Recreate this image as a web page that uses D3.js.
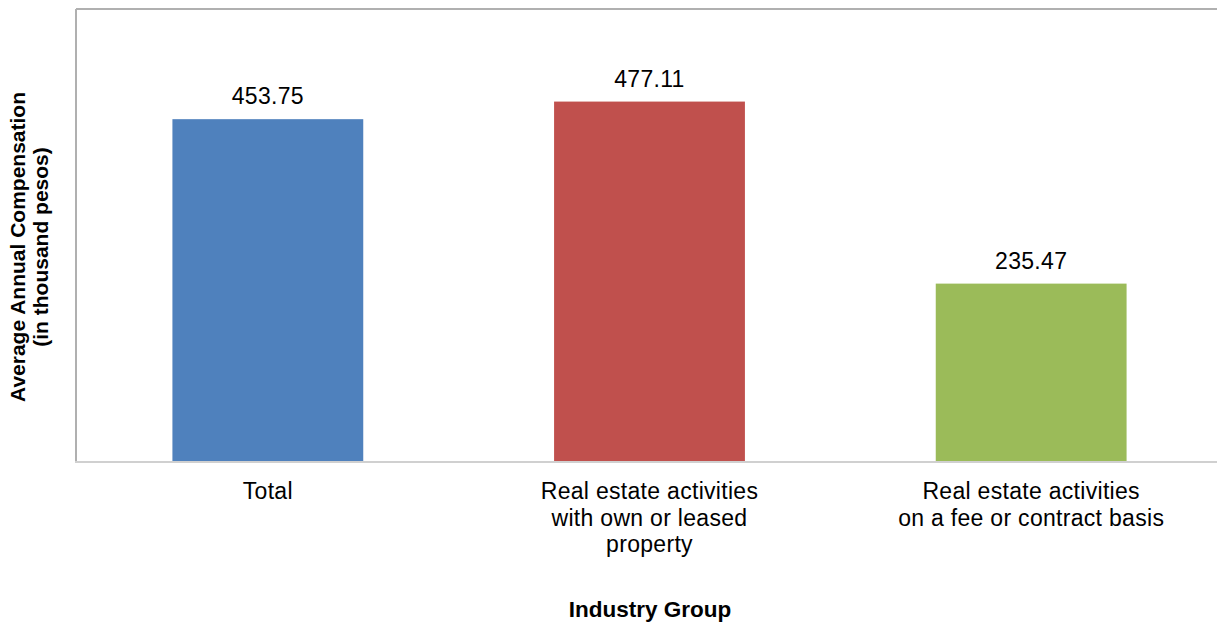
<!DOCTYPE html>
<html>
<head>
<meta charset="utf-8">
<script src="https://cdn.jsdelivr.net/npm/d3@7"></script>
<style>
  html, body { margin: 0; padding: 0; background: #fff; }
  svg { display: block; font-family: "Liberation Sans", Arial, sans-serif; }
</style>
</head>
<body>
<svg id="chart" width="1217" height="624"></svg>
<script>
// Average annual compensation by industry group (thousand pesos)
const categories = [
  ["Total"],
  ["Real estate activities", "with own or leased", "property"],
  ["Real estate activities", "on a fee or contract basis"]
];
const values = [453.75, 477.11, 235.47];
const colors = ["#4F81BD", "#C0504D", "#9BBB59"];
const yDomain = [0, 600];

const svg = d3.select("#chart");
const plot = { left: 77, right: 1222, top: 9, bottom: 461 };

const x = d3.scaleBand()
  .domain(d3.range(values.length))
  .range([plot.left, plot.right])
  .paddingInner(0.5)
  .paddingOuter(0.25);

const y = d3.scaleLinear().domain(yDomain).range([plot.bottom, plot.top]);

// Bars
svg.append("g").selectAll("rect")
  .data(values)
  .join("rect")
  .attr("x", (d, i) => x(i))
  .attr("width", x.bandwidth())
  .attr("y", d => y(d))
  .attr("height", d => y(0) - y(d))
  .attr("fill", (d, i) => colors[i]);

// Value labels
svg.append("g").selectAll("text")
  .data(values)
  .join("text")
  .attr("x", (d, i) => x(i) + x.bandwidth() / 2)
  .attr("y", d => y(d) - 15)
  .attr("text-anchor", "middle")
  .attr("font-size", 23)
  .attr("letter-spacing", 0.3)
  .attr("fill", "#000")
  .text(d => d.toFixed(2));

// Plot frame: top and left edges, category axis at the bottom
const frame = svg.append("g").attr("fill", "none");
frame.append("line")
  .attr("x1", plot.left - 1).attr("x2", 1217)
  .attr("y1", plot.top).attr("y2", plot.top)
  .attr("stroke", "#B0B0B0").attr("stroke-width", 2);
frame.append("line")
  .attr("x1", plot.left - 1).attr("x2", plot.left - 1)
  .attr("y1", plot.top).attr("y2", plot.bottom)
  .attr("stroke", "#B0B0B0").attr("stroke-width", 2);

const xAxis = d3.axisBottom(x).tickSize(0).tickFormat("");
const axisG = svg.append("g")
  .attr("transform", `translate(0,${plot.bottom + 1})`)
  .call(xAxis);
axisG.select(".domain").attr("stroke", "#D0D0D0").attr("stroke-width", 2)
  .attr("d", `M${plot.left - 2},0H1217`);

// Category labels (multi-line)
const catG = svg.append("g").selectAll("text")
  .data(categories)
  .join("text")
  .attr("x", (d, i) => x(i) + x.bandwidth() / 2)
  .attr("y", 499)
  .attr("text-anchor", "middle")
  .attr("font-size", 23)
  .attr("letter-spacing", 0.3)
  .attr("fill", "#000");
catG.selectAll("tspan")
  .data(d => d)
  .join("tspan")
  .attr("x", function () { return this.parentNode.getAttribute("x"); })
  .attr("dy", (d, j) => j === 0 ? 0 : 26.5)
  .text(d => d);

// Axis titles
svg.append("text")
  .attr("x", 650)
  .attr("y", 617)
  .attr("text-anchor", "middle")
  .attr("font-size", 22.5)
  .attr("font-weight", "bold")
  .text("Industry Group");

const yTitle = svg.append("text")
  .attr("transform", "translate(0,247) rotate(-90)")
  .attr("text-anchor", "middle")
  .attr("font-size", 21)
  .attr("font-weight", "bold");
yTitle.append("tspan").attr("x", 0).attr("y", 25).text("Average Annual Compensation");
yTitle.append("tspan").attr("x", 0).attr("y", 48).text("(in thousand pesos)");
</script>
</body>
</html>
